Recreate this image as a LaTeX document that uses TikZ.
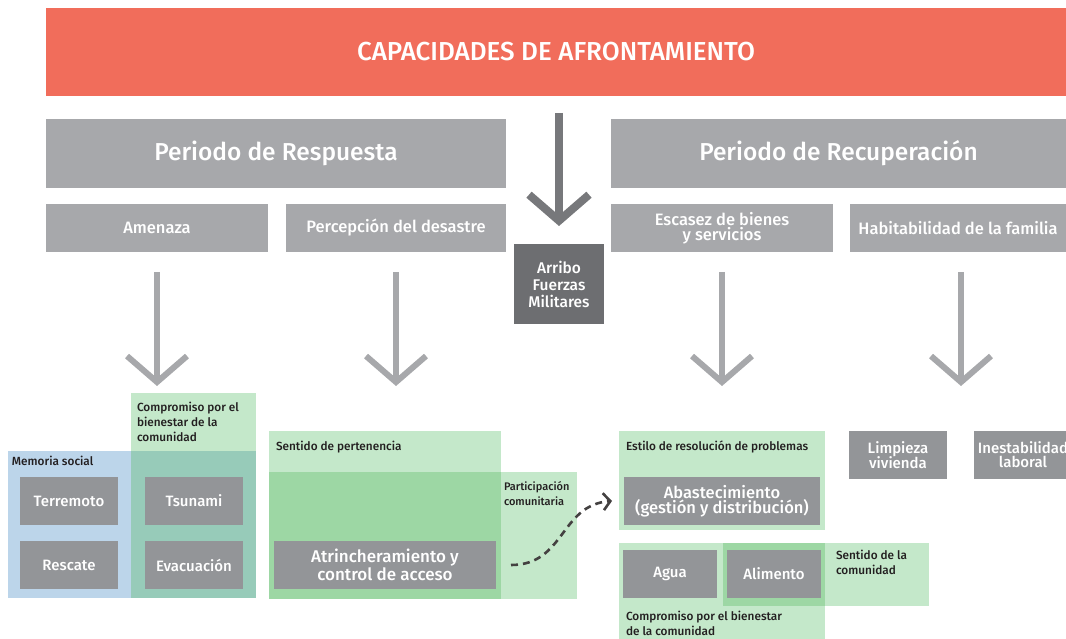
\documentclass[tikz,border=0pt]{standalone}
\usepackage{fontspec}
\setmainfont{Fira Sans}[UprightFont=* Medium, BoldFont=* Bold]
\usetikzlibrary{arrows.meta,positioning,calc}

\definecolor{coral}{HTML}{F16D5B}
\definecolor{hgray}{HTML}{A7A8AB}
\definecolor{igray}{HTML}{939598}
\definecolor{dgray}{HTML}{6D6E71}
\definecolor{agray}{HTML}{77787B}
\definecolor{lblue}{HTML}{BCD5EA}
\definecolor{lgreen}{HTML}{C4E8CA}
\definecolor{mgreen}{HTML}{9DD7A4}
\definecolor{teal}{HTML}{97CBB9}
\definecolor{ink}{HTML}{231F20}

\begin{document}
\begin{tikzpicture}
[x=1pt, y=-1pt,
every node/.style={inner sep=0pt, outer sep=0pt},
band/.style={rectangle, fill=coral, text=white, font=\fontsize{26}{28}\selectfont},
period/.style={rectangle, fill=hgray, text=white, font=\fontsize{24.5}{26}\selectfont},
factor/.style={rectangle, fill=hgray, text=white, align=center, font=\fontsize{16.5}{15.5}\selectfont},
item/.style={rectangle, fill=igray, text=white, align=center, font=\fontsize{15}{15}\selectfont},
zone/.style={rectangle, fill=lgreen},
tag/.style={anchor=north west, align=left, text=ink, font=\fontsize{11.8}{15}\selectfont},
flow/.style={draw=hgray, line width=6pt, -{Straight Barb[length=26pt, width=60pt, sharp]}},
dashflow/.style={draw=ink!85, line width=2.6pt, dash pattern=on 7pt off 5pt, -{Straight Barb[length=7pt, width=17pt]}}]

\useasboundingbox (0,0) rectangle (1066,639);

% cabecera
\node[band, minimum width=1020pt, minimum height=88pt] (banner) at (556,52) {CAPACIDADES DE AFRONTAMIENTO};
\node[period, minimum width=460pt, minimum height=69pt] (resp) at (276,153.5) {Periodo de Respuesta};
\node[period, minimum width=455pt, minimum height=69pt] (recu) at (838.5,153.5) {Periodo de Recuperación};

\node[factor, minimum width=222pt, minimum height=48pt] (amenaza) at (157,228) {Amenaza};
\node[factor, minimum width=220pt, minimum height=48pt] (percep) at (396,228) {Percepción del desastre};
\node[factor, minimum width=222pt, minimum height=48pt] (escasez) at (722,228) {Escasez de bienes\\y servicios};
\node[factor, minimum width=216pt, minimum height=48pt] (habit) at (958,228) {Habitabilidad de la familia};

\node[item, fill=dgray, minimum width=90pt, minimum height=80pt, font=\fontsize{15.5}{17}\selectfont] (arribo) at (559,284) {Arribo\\Fuerzas\\Militares};
\draw[flow, draw=agray, line width=8pt] ([yshift=-17pt]banner.south -| arribo.north) -- ([yshift=18pt]arribo.north);

% flechas
\coordinate (tipA) at (157,386);
\coordinate (tipP) at (396,386);
\coordinate (tipE) at (722,386);
\coordinate (tipH) at (961,386);
\draw[flow] ([yshift=-20pt]amenaza.south) -- (tipA);
\draw[flow] ([yshift=-20pt]percep.south) -- (tipP);
\draw[flow] ([yshift=-20pt]escasez.south) -- (tipE);
\draw[flow] ([yshift=-20pt]habit.south -| tipH) -- (tipH);

% respuesta: amenaza
\node[zone, minimum width=125pt, minimum height=205pt] (compL) at (193.5,495.5) {};
\node[zone, fill=lblue, minimum width=123pt, minimum height=147pt] (memoria) at (69.5,524.5) {};
\fill[teal] (compL.west |- memoria.north) rectangle (compL.south east);
\node[tag] at ([xshift=4pt, yshift=-5pt]memoria.north west) {Memoria social};
\node[tag] at ([xshift=6pt, yshift=-9pt]compL.north west) {Compromiso por el\\bienestar de la\\comunidad};
\node[item, minimum width=98pt, minimum height=48pt] (terremoto) at (69,501) {Terremoto};
\node[item, minimum width=98pt, minimum height=48pt] (rescate) at (69,565) {Rescate};
\node[item, minimum width=98pt, minimum height=48pt] (tsunami) at (194,501) {Tsunami};
\node[item, minimum width=98pt, minimum height=48pt] (evacuacion) at (194,565) {Evacuación};

% respuesta: percepcion
\node[zone, minimum width=232pt, minimum height=168pt] (pertenencia) at (385,515) {};
\node[zone, minimum width=308pt, minimum height=127pt] (particip) at (423,535.5) {};
\fill[mgreen] (pertenencia.west |- particip.north) rectangle (pertenencia.south east);
\node[tag] at ([xshift=7pt, yshift=-10pt]pertenencia.north west) {Sentido de pertenencia};
\node[tag, font=\fontsize{11}{15}\selectfont] at ([xshift=3pt, yshift=-9pt]pertenencia.east |- particip.north) {Participación\\comunitaria};
\node[item, minimum width=222pt, minimum height=48pt, font=\fontsize{17}{15}\selectfont] (atrinch) at (385,565) {Atrincheramiento y\\control de acceso};

% recuperacion: escasez
\node[zone, minimum width=206pt, minimum height=99pt] (estilo) at (722,480.5) {};
\node[tag] at ([xshift=7pt, yshift=-10pt]estilo.north west) {Estilo de resolución de problemas};
\node[item, minimum width=196pt, minimum height=48pt, font=\fontsize{16.5}{15}\selectfont] (abast) at (722,501) {Abastecimiento\\(gestión y distribución)};
\node[zone, minimum width=206pt, minimum height=96pt] (compR) at (722,591) {};
\node[zone, minimum width=206pt, minimum height=63pt] (sentidoC) at (826,574.5) {};
\fill[mgreen] (sentidoC.north west) rectangle (compR.east |- sentidoC.south);
\node[item, minimum width=94pt, minimum height=48pt] (agua) at (670,574) {Agua};
\node[item, minimum width=94pt, minimum height=48pt] (alimento) at (774,574) {Alimento};
\node[tag] at ([xshift=11pt, yshift=-7pt]compR.north east) {Sentido de la\\comunidad};
\node[tag] at ([xshift=7pt, yshift=-13pt]compR.west |- agua.south) {Compromiso por el bienestar\\de la comunidad};

% recuperacion: habitabilidad
\node[item, minimum width=98pt, minimum height=48pt] (limpieza) at (898,455) {Limpieza\\[-1pt]vivienda};
\node[item, minimum width=98pt, minimum height=48pt] (inestab) at (1023,455) {Inestabilidad\\[-1pt]laboral};

\draw[dashflow] ([xshift=15pt]atrinch.east) .. controls (565,565) and (560,505) .. ([xshift=-12pt]abast.west);
\end{tikzpicture}
\end{document}
